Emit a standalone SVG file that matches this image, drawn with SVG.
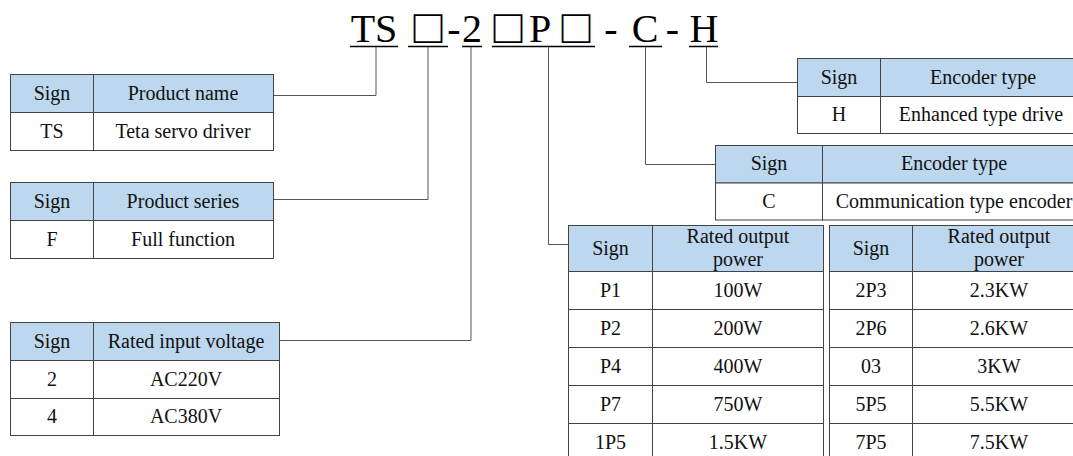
<svg xmlns="http://www.w3.org/2000/svg" width="1073" height="456" viewBox="0 0 1073 456">
<style>
.t{font-family:"Liberation Serif","Times New Roman",serif;font-size:20px;fill:#111;text-anchor:middle}
.ti{font-family:"Liberation Serif","Times New Roman",serif;font-size:40px;fill:#000;text-anchor:middle}
.bx{font-family:"DejaVu Sans ExtraLight","DejaVu Sans",sans-serif;font-weight:200;font-size:48px;fill:#000;text-anchor:middle}
.hd{fill:#BDD7EE;stroke:#444;stroke-width:1}
.cl{fill:#fff;stroke:#444;stroke-width:1}
.ln{fill:none;stroke:#555;stroke-width:1}
.ul{fill:none;stroke:#000;stroke-width:1.6}
</style>
<rect width="1073" height="456" fill="#fff"/>
<g id="title">
<text class="ti" x="374" y="42">TS</text>
<text class="bx" x="428" y="43">□</text>
<text class="ti" x="454" y="42">-</text>
<text class="ti" x="472" y="42">2</text>
<text class="bx" x="508" y="43">□</text>
<text class="ti" x="540" y="42">P</text>
<text class="bx" x="576" y="43">□</text>
<text class="ti" x="611" y="42">-</text>
<text class="ti" x="645" y="42">C</text>
<text class="ti" x="672.5" y="42">-</text>
<text class="ti" x="704" y="42">H</text>
<path class="ul" d="M350 46.5H398M408 46.5H448M462 46.5H482M492 46.5H595M629 46.5H662M689 46.5H718"/>
</g>
<g id="connectors">
<path class="ln" d="M376 47V95.5H273"/>
<path class="ln" d="M428 47V199.5H273"/>
<path class="ln" d="M471 47V340.5H279"/>
<path class="ln" d="M548.5 47V244.5H568"/>
<path class="ln" d="M645.5 47V164.5H715"/>
<path class="ln" d="M706.5 47V82.5H797"/>
</g>
<g id="product-name">
<rect class="hd" x="10.5" y="74.5" width="83" height="38"/>
<rect class="hd" x="93.5" y="74.5" width="180" height="38"/>
<rect class="cl" x="10.5" y="112.5" width="83" height="38"/>
<rect class="cl" x="93.5" y="112.5" width="180" height="38"/>
<text class="t" x="52" y="100">Sign</text>
<text class="t" x="183" y="100">Product name</text>
<text class="t" x="52" y="138">TS</text>
<text class="t" x="183" y="138">Teta servo driver</text>
</g>
<g id="product-series">
<rect class="hd" x="10.5" y="182.5" width="83" height="38"/>
<rect class="hd" x="93.5" y="182.5" width="180" height="38"/>
<rect class="cl" x="10.5" y="220.5" width="83" height="38"/>
<rect class="cl" x="93.5" y="220.5" width="180" height="38"/>
<text class="t" x="52" y="208">Sign</text>
<text class="t" x="183" y="208">Product series</text>
<text class="t" x="52" y="246">F</text>
<text class="t" x="183" y="246">Full function</text>
</g>
<g id="input-voltage">
<rect class="hd" x="10.5" y="322.5" width="83" height="38"/>
<rect class="hd" x="93.5" y="322.5" width="186" height="38"/>
<rect class="cl" x="10.5" y="360.5" width="83" height="38"/>
<rect class="cl" x="93.5" y="360.5" width="186" height="38"/>
<rect class="cl" x="10.5" y="398.5" width="83" height="37"/>
<rect class="cl" x="93.5" y="398.5" width="186" height="37"/>
<text class="t" x="52" y="348">Sign</text>
<text class="t" x="186" y="348">Rated input voltage</text>
<text class="t" x="52" y="386">2</text>
<text class="t" x="186" y="386">AC220V</text>
<text class="t" x="52" y="423">4</text>
<text class="t" x="186" y="423">AC380V</text>
</g>
<g id="encoder-h">
<rect class="hd" x="797.5" y="58.5" width="83" height="38"/>
<rect class="hd" x="880.5" y="58.5" width="210" height="38"/>
<rect class="cl" x="797.5" y="96.5" width="83" height="37"/>
<rect class="cl" x="880.5" y="96.5" width="210" height="37"/>
<text class="t" x="839" y="84">Sign</text>
<text class="t" x="983" y="84">Encoder type</text>
<text class="t" x="839" y="121">H</text>
<text class="t" x="981" y="121">Enhanced type drive</text>
</g>
<g id="encoder-c">
<rect class="hd" x="715.5" y="145.5" width="107" height="37.5"/>
<rect class="hd" x="822.5" y="145.5" width="270" height="37.5"/>
<rect class="cl" x="715.5" y="183" width="107" height="37"/>
<rect class="cl" x="822.5" y="183" width="270" height="37"/>
<text class="t" x="769" y="170">Sign</text>
<text class="t" x="954" y="170">Encoder type</text>
<text class="t" x="769" y="208">C</text>
<text class="t" x="954" y="208">Communication type encoder</text>
</g>
<g id="power-a">
<rect class="hd" x="568.5" y="225.5" width="84" height="46"/>
<rect class="hd" x="652.5" y="225.5" width="171" height="46"/>
<rect class="cl" x="568.5" y="271.5" width="84" height="38"/>
<rect class="cl" x="652.5" y="271.5" width="171" height="38"/>
<rect class="cl" x="568.5" y="309.5" width="84" height="38"/>
<rect class="cl" x="652.5" y="309.5" width="171" height="38"/>
<rect class="cl" x="568.5" y="347.5" width="84" height="38"/>
<rect class="cl" x="652.5" y="347.5" width="171" height="38"/>
<rect class="cl" x="568.5" y="385.5" width="84" height="38"/>
<rect class="cl" x="652.5" y="385.5" width="171" height="38"/>
<rect class="cl" x="568.5" y="423.5" width="84" height="38"/>
<rect class="cl" x="652.5" y="423.5" width="171" height="38"/>
<text class="t" x="610.5" y="255">Sign</text>
<text class="t" x="738" y="243">Rated output</text>
<text class="t" x="738" y="266">power</text>
<text class="t" x="610.5" y="297">P1</text>
<text class="t" x="738" y="297">100W</text>
<text class="t" x="610.5" y="335">P2</text>
<text class="t" x="738" y="335">200W</text>
<text class="t" x="610.5" y="373">P4</text>
<text class="t" x="738" y="373">400W</text>
<text class="t" x="610.5" y="411">P7</text>
<text class="t" x="738" y="411">750W</text>
<text class="t" x="610.5" y="449">1P5</text>
<text class="t" x="738" y="449">1.5KW</text>
</g>
<g id="power-b">
<rect class="hd" x="829.5" y="225.5" width="83" height="46"/>
<rect class="hd" x="912.5" y="225.5" width="174" height="46"/>
<rect class="cl" x="829.5" y="271.5" width="83" height="38"/>
<rect class="cl" x="912.5" y="271.5" width="174" height="38"/>
<rect class="cl" x="829.5" y="309.5" width="83" height="38"/>
<rect class="cl" x="912.5" y="309.5" width="174" height="38"/>
<rect class="cl" x="829.5" y="347.5" width="83" height="38"/>
<rect class="cl" x="912.5" y="347.5" width="174" height="38"/>
<rect class="cl" x="829.5" y="385.5" width="83" height="38"/>
<rect class="cl" x="912.5" y="385.5" width="174" height="38"/>
<rect class="cl" x="829.5" y="423.5" width="83" height="38"/>
<rect class="cl" x="912.5" y="423.5" width="174" height="38"/>
<text class="t" x="871" y="255">Sign</text>
<text class="t" x="999" y="243">Rated output</text>
<text class="t" x="999" y="266">power</text>
<text class="t" x="871" y="297">2P3</text>
<text class="t" x="999" y="297">2.3KW</text>
<text class="t" x="871" y="335">2P6</text>
<text class="t" x="999" y="335">2.6KW</text>
<text class="t" x="871" y="373">03</text>
<text class="t" x="999" y="373">3KW</text>
<text class="t" x="871" y="411">5P5</text>
<text class="t" x="999" y="411">5.5KW</text>
<text class="t" x="871" y="449">7P5</text>
<text class="t" x="999" y="449">7.5KW</text>
</g>
</svg>
